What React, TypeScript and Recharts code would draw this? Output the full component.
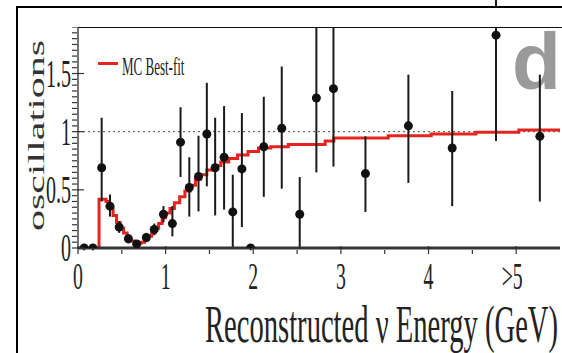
import React from 'react';
import { ComposedChart, Line, Scatter, ErrorBar, XAxis, YAxis, ReferenceLine, Legend } from 'recharts';

// measured points (reconstructed energy in GeV, data / no-oscillation ratio)
const energy = [0.07, 0.17, 0.27, 0.365, 0.47, 0.575, 0.67, 0.78, 0.87, 0.975, 1.077, 1.17, 1.27, 1.375, 1.47, 1.565, 1.667, 1.766, 1.87, 1.97, 2.12, 2.325, 2.53, 2.72, 2.915, 3.28, 3.77, 4.27, 4.77, 5.27];
const ratio = [0.0, 0.0, 0.69, 0.36, 0.18, 0.08, 0.035, 0.09, 0.16, 0.29, 0.21, 0.91, 0.52, 0.615, 0.98, 0.69, 0.78, 0.31, 0.68, 0.0, 0.87, 1.03, 0.29, 1.29, 1.37, 0.64, 1.05, 0.86, 1.83, 0.96];
const errDown = [0.02, 0.02, 0.29, 0.09, 0.05, 0.04, 0.03, 0.04, 0.05, 0.07, 0.11, 0.3, 0.25, 0.3, 0.45, 0.41, 0.45, 0.31, 0.5, 0.02, 0.43, 0.52, 0.29, 0.64, 0.67, 0.33, 0.49, 0.5, 0.91, 0.56];
const errUp = [0.02, 0.02, 0.43, 0.1, 0.05, 0.04, 0.03, 0.04, 0.05, 0.07, 0.15, 0.3, 0.26, 0.35, 0.44, 0.43, 0.44, 0.32, 0.48, 0.03, 0.43, 0.53, 0.32, 0.64, 0.67, 0.32, 0.44, 0.49, 0.91, 0.53];

// MC best-fit histogram (bin low edge, value)
const fitEnergy = [0.24, 0.24, 0.32, 0.36, 0.4, 0.44, 0.48, 0.52, 0.56, 0.6, 0.64, 0.68, 0.72, 0.76, 0.8, 0.84, 0.88, 0.92, 0.96, 1.0, 1.05, 1.1, 1.16, 1.22, 1.28, 1.34, 1.4, 1.47, 1.55, 1.63, 1.72, 1.82, 1.94, 2.06, 2.2, 2.4, 2.82, 2.92, 3.54, 4.03, 4.54, 5.03, 5.5];
const fitValue = [0, 0.42, 0.4, 0.34, 0.28, 0.22, 0.17, 0.13, 0.09, 0.06, 0.04, 0.04, 0.05, 0.07, 0.1, 0.13, 0.17, 0.21, 0.26, 0.3, 0.34, 0.39, 0.44, 0.49, 0.54, 0.59, 0.63, 0.67, 0.71, 0.74, 0.77, 0.8, 0.83, 0.86, 0.87, 0.89, 0.92, 0.945, 0.965, 0.98, 0.995, 1.015, 1.015];

const xTicks = [0, 1, 2, 3, 4, 5];
const xTickLabels = ['0', '1', '2', '3', '4', '>5'];
const xMinorTicks = [0, 0.5, 1, 1.5, 2, 2.5, 3, 3.5, 4, 4.5, 5];
const yTicks = [0, 0.5, 1, 1.5];
const yTickLabels = ['0', '0.5', '1', '1.5'];
const yMinorTicks: number[] = [];
for (let i = 0; i <= 38; i++) yMinorTicks.push(Math.round(i * 5) / 100);

const points = energy.map((e, i) => ({ e, v: ratio[i], err: [errDown[i], errUp[i]] }));
const fit = fitEnergy.map((e, i) => ({ e, v: fitValue[i] }));

const SERIF = '"Liberation Serif", "DejaVu Serif", serif';
const RED = '#e3241f';

const YTick = (props: any) => {
  const { x, y, payload } = props;
  const idx = yTicks.indexOf(payload.value);
  const major = idx >= 0;
  return (
    <g>
      <line x1={x} x2={x + (major ? 12 : 5)} y1={y} y2={y} stroke="#333" strokeWidth={1.2} />
      {major && (
        <text transform={`translate(${x - 1},${y + 13}) scale(0.5,1)`} textAnchor="end"
          fontFamily={SERIF} fontSize={40} fill="#222">{yTickLabels[idx]}</text>
      )}
    </g>
  );
};

const RightTick = (props: any) => {
  const { x, y, payload } = props;
  const major = yTicks.indexOf(payload.value) >= 0;
  return <line x1={x} x2={x - (major ? 12 : 5)} y1={y} y2={y} stroke="#333" strokeWidth={1.2} />;
};

const XTick = (props: any) => {
  const { x, y, payload } = props;
  const idx = xTicks.indexOf(payload.value);
  const major = idx >= 0;
  return (
    <g>
      <line x1={x} x2={x} y1={y} y2={y - (major ? 8 : 4)} stroke="#333" strokeWidth={1.2} />
      {major && (
        <text transform={`translate(${x - (idx === 5 ? 4 : 0)},${y + 35}) scale(0.52,1)`} textAnchor="middle"
          fontFamily={SERIF} fontSize={38} fill="#222">{xTickLabels[idx]}</text>
      )}
    </g>
  );
};

const XLabel = (props: any) => {
  const { x, y } = props.viewBox;
  return (
    <text transform={`translate(${x + 127},${y + 94}) scale(0.55,1)`} textAnchor="start"
      fontFamily={SERIF} fontSize={52} fill="#222">Reconstructed ν Energy (GeV)</text>
  );
};

const YLabel = (props: any) => {
  const { x, y, height } = props.viewBox;
  return (
    <text transform={`translate(${x + 26},${y + height / 2 - 2}) rotate(-90) scale(1,0.55)`} textAnchor="middle"
      fontFamily={SERIF} fontSize={42} fill="#333">oscillations</text>
  );
};

const renderLegend = () => (
  <div style={{ position: 'relative', width: 120, height: 28 }}>
    <div style={{ position: 'absolute', left: 0, top: 6, width: 20, height: 3, background: RED }} />
    <span style={{
      position: 'absolute', left: 24, top: -2, fontFamily: SERIF, fontSize: 26, lineHeight: '26px',
      transform: 'scaleX(0.5)', transformOrigin: 'left top', whiteSpace: 'nowrap', color: '#222',
    }}>MC Best-fit</span>
  </div>
);

const Dot = (p: any) => <circle cx={p.cx} cy={p.cy} r={4.5} fill="#111" />;

export default function App() {
  return (
    <div style={{ position: 'absolute', left: 0, top: 0, width: 562, height: 353, background: '#fff', overflow: 'hidden' }}>
      <svg width={562} height={120} style={{ position: 'absolute', left: 0, top: 0 }}>
        <text x={512} y={89} fontFamily='"Liberation Sans", Arial, sans-serif' fontWeight="bold" fontSize={80} fill="#9a9a9a">d</text>
      </svg>
      <div style={{ position: 'relative' }}>
        <ComposedChart width={562} height={353} margin={{ top: 27, right: 2, left: 18, bottom: 0 }}>
          <XAxis type="number" dataKey="e" domain={[0, 5.5]} allowDataOverflow ticks={xMinorTicks} interval={0}
            tick={<XTick />} tickLine={false} tickMargin={0} height={105}
            axisLine={{ stroke: '#333', strokeWidth: 3 }} label={<XLabel />} />
          <YAxis type="number" domain={[0, 1.9]} allowDataOverflow ticks={yMinorTicks} interval={0}
            tick={<YTick />} tickLine={false} tickMargin={0} width={60}
            axisLine={{ stroke: '#444', strokeWidth: 1.5 }} label={<YLabel />} />
          <YAxis yAxisId="r" orientation="right" type="number" domain={[0, 1.9]} ticks={yMinorTicks} interval={0}
            tick={<RightTick />} tickLine={false} tickMargin={0} width={0}
            axisLine={{ stroke: '#444', strokeWidth: 1.5 }} />
          <ReferenceLine y={1} stroke="#444" strokeWidth={1} strokeDasharray="2 3" />
          <Legend content={renderLegend} layout="vertical" verticalAlign="middle" align="center"
            wrapperStyle={{ left: 98, top: 56, width: 120, height: 28 }} />
          <Line data={fit} dataKey="v" name="MC Best-fit" type="stepAfter" stroke={RED} strokeWidth={3}
            dot={false} isAnimationActive={false} />
          <Scatter data={points} dataKey="v" shape={<Dot />} isAnimationActive={false} legendType="none">
            <ErrorBar dataKey="err" direction="y" width={0} stroke="#1a1a1a" strokeWidth={2} />
          </Scatter>
        </ComposedChart>
      </div>
      {/* error bars running past the top of the frame are hidden, as in the original plot */}
      <div style={{ position: 'absolute', left: 19, top: 8, width: 543, height: 19, background: '#fff' }} />
      <div style={{ position: 'absolute', left: 78, top: 26.5, width: 484, height: 1.2, background: '#111' }} />
      <div style={{ position: 'absolute', left: 16, top: 6, width: 560, height: 360, borderLeft: '2px solid #000', borderTop: '2px solid #000' }} />
    </div>
  );
}
